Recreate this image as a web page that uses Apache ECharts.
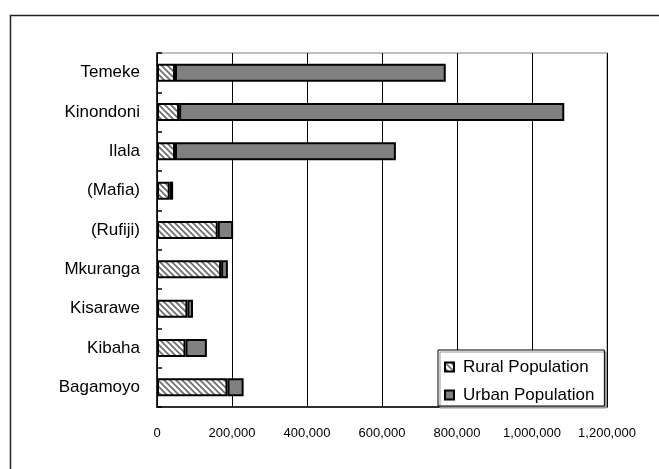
<!DOCTYPE html>
<html>
<head>
<meta charset="utf-8">
<script src="https://cdn.jsdelivr.net/npm/echarts@6/dist/echarts.min.js"></script>
<style>
  html, body { margin: 0; padding: 0; background: #fff; }
  #chart { width: 659px; height: 469px; }
</style>
</head>
<body>
<div id="chart"></div>
<script>
// Districts, listed from the bottom of the chart upward
const districts = ['Bagamoyo', 'Kibaha', 'Kisarawe', 'Mkuranga', '(Rufiji)', '(Mafia)', 'Ilala', 'Kinondoni', 'Temeke'];
const ruralPopulation = [188000, 76000, 81000, 171000, 162000, 34000, 48000, 59000, 48000];
const urbanPopulation = [43000, 57000, 15000, 18000, 41000, 9000, 589000, 1027000, 722000];
const xTicks = { min: 0, max: 1200000, interval: 200000 };

// Diagonal hatch fill for the rural segments
function hatchPattern() {
  const c = document.createElement('canvas');
  c.width = 6; c.height = 6;
  const ctx = c.getContext('2d');
  ctx.fillStyle = '#ffffff';
  ctx.fillRect(0, 0, 6, 6);
  ctx.strokeStyle = '#6a6a6a';
  ctx.lineWidth = 1.6;
  ctx.beginPath();
  ctx.moveTo(-1, -1); ctx.lineTo(7, 7);
  ctx.moveTo(-1, 5); ctx.lineTo(1, 7);
  ctx.moveTo(5, -1); ctx.lineTo(7, 1);
  ctx.stroke();
  return c;
}

const font = '"Liberation Sans", Arial, sans-serif';
const chart = echarts.init(document.getElementById('chart'), null, { renderer: 'canvas' });

chart.setOption({
  animation: false,
  backgroundColor: '#ffffff',
  graphic: [{
    type: 'rect',
    left: 8, top: 13, z: -10,
    shape: { width: 700, height: 500 },
    style: { fill: 'none', stroke: '#222', lineWidth: 1.5 }
  }],
  grid: {
    left: 157, top: 53, width: 450, height: 354,
    show: true, borderColor: '#c0c0c0', borderWidth: 2, backgroundColor: 'transparent'
  },
  xAxis: {
    type: 'value',
    min: xTicks.min, max: xTicks.max, interval: xTicks.interval,
    axisLine: { show: true, lineStyle: { color: '#000', width: 1.5 } },
    axisTick: { show: false },
    splitLine: { show: true, lineStyle: { color: '#000', width: 1 } },
    axisLabel: {
      margin: 20, color: '#000', fontFamily: font, fontSize: 13,
      formatter: v => v.toLocaleString('en-US')
    }
  },
  yAxis: {
    type: 'category',
    data: districts,
    axisLine: { show: true, lineStyle: { color: '#000', width: 1.5 } },
    axisTick: { show: true, inside: true, length: 5, lineStyle: { color: '#000', width: 1.5 } },
    axisLabel: { margin: 17, color: '#000', fontFamily: font, fontSize: 17 }
  },
  legend: {
    orient: 'vertical',
    left: 438, top: 350,
    padding: [8, 10, 2, 6],
    itemGap: 10,
    itemWidth: 9, itemHeight: 9,
    icon: 'rect',
    backgroundColor: '#fff',
    borderColor: '#000', borderWidth: 1,
    shadowColor: '#9a9a9a', shadowOffsetX: 2, shadowOffsetY: 2, shadowBlur: 0,
    textStyle: { color: '#000', fontFamily: font, fontSize: 17, lineHeight: 18, padding: [0, 0, 0, 4] },
    data: ['Rural Population', 'Urban Population']
  },
  series: [
    {
      name: 'Rural Population',
      type: 'bar',
      stack: 'pop',
      barWidth: 18,
      data: ruralPopulation,
      itemStyle: {
        color: { image: hatchPattern(), repeat: 'repeat' },
        borderColor: '#000', borderWidth: 2
      }
    },
    {
      name: 'Urban Population',
      type: 'bar',
      stack: 'pop',
      barWidth: 18,
      data: urbanPopulation,
      itemStyle: { color: '#808080', borderColor: '#000', borderWidth: 2 }
    }
  ]
});
</script>
</body>
</html>
